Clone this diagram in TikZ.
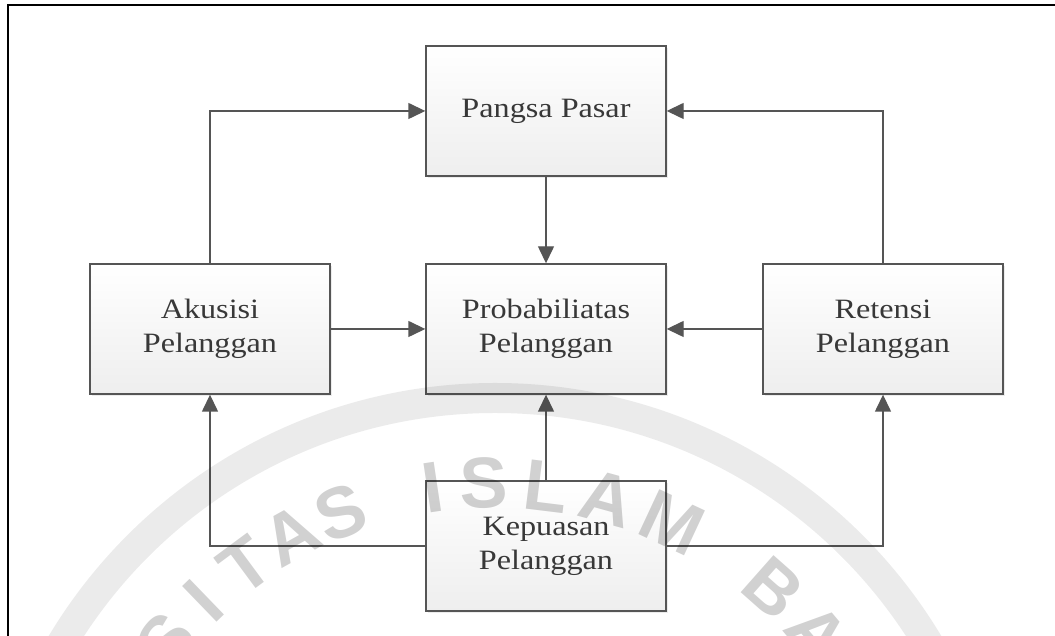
\documentclass[tikz,border=0pt]{standalone}
\usepackage{fontspec}
\setmainfont{Liberation Serif}[FakeStretch=1.15]
\newfontfamily\wmfont{Liberation Sans}
\usetikzlibrary{positioning, arrows.meta, shadows}
\definecolor{linegray}{HTML}{555555}
\definecolor{textgray}{HTML}{383838}
\tikzset{
    block/.style={
        rectangle, draw=linegray, line width=1.4pt,
        top color=white, bottom color={rgb:black,1;white,14},
        minimum width=240pt, minimum height=130pt,
        align=center, text=textgray,
        font=\fontsize{28}{34}\selectfont,
        drop shadow={shadow xshift=2pt, shadow yshift=-2pt, opacity=0.15}
    },
    mm/.style={
        draw=linegray, line width=1.4pt,
        -{Triangle[length=17pt, width=16pt]}
    },
    wm/.style={
        font=\wmfont\bfseries\fontsize{72}{72}\selectfont,
        text=black, text opacity=0.18, inner sep=0pt
    }
}

\begin{document}
\begin{tikzpicture}[x=1pt, y=1pt]
        \useasboundingbox (0,0) rectangle (1055,636);

        \node[block] (Pangsa)       at (546,525) {Pangsa Pasar};
        \node[block] (Akusisi)      at (210,307) {Akusisi\\Pelanggan};
        \node[block] (Probabilitas) at (546,307) {Probabiliatas\\Pelanggan};
        \node[block] (Retensi)      at (883,307) {Retensi\\Pelanggan};
        \node[block] (Kepuasan)     at (546,90)  {Kepuasan\\Pelanggan};

        \draw[mm] (Akusisi.north) |- (Pangsa.west);
        \draw[mm] (Retensi.north) |- (Pangsa.east);
        \draw[mm] (Pangsa) -- (Probabilitas);
        \draw[mm] (Akusisi) -- (Probabilitas);
        \draw[mm] (Retensi) -- (Probabilitas);
        \draw[mm] (Kepuasan) -- (Probabilitas);
        \draw[mm] (Kepuasan.west) -| (Akusisi.south);
        \draw[mm] (Kepuasan.east) -| (Retensi.south);

        % frame
        \draw[line width=2.5pt] (8,-5) -- (8,631) -- (1060,631);

        % watermark
        \begin{scope}
            \clip (0,0) rectangle (1055,636);
            \draw[line width=30pt, black, opacity=0.08] (495,-267) circle (505);
            \foreach \ch/\a in {S/141.5, I/134, T/126.5, A/119, S/111.5,
                    I/98.5, S/91.5, L/83, A/74.5, M/65,
                    B/48.5, A/40}
                \node[wm, rotate=\a-90] at ({495+420*cos(\a)}, {-267+420*sin(\a)}) {\ch};
        \end{scope}
    \end{tikzpicture}
\end{document}
